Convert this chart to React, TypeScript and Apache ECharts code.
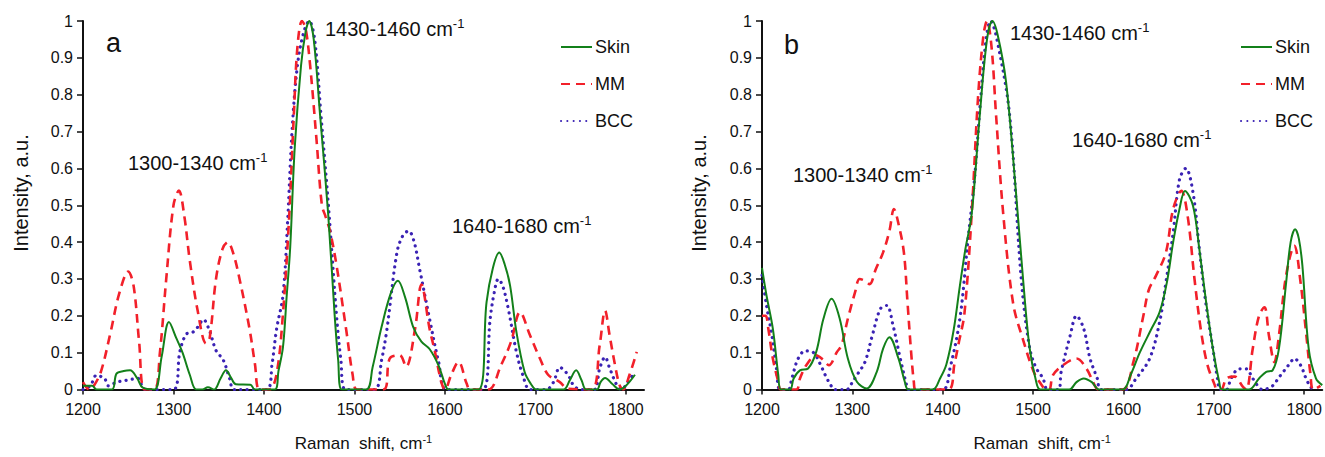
import React, { useEffect, useRef } from "react";
import * as echarts from "echarts";

// ---- Data (Raman shift, normalized intensity) ----
const xTicks = [1200, 1300, 1400, 1500, 1600, 1700, 1800];
const yTitle = "Intensity, a.u.";
const seriesNames = ["Skin", "MM", "BCC"];

// Panel a
const aSkin: number[][] = [
  [1200, 0.01], [1210, 0.01], [1215, 0], [1232, 0], [1237, 0.043], [1245, 0.05], [1252, 0.052], [1260, 0.03], [1266, 0.005],
  [1279, 0], [1287, 0.09], [1295, 0.183], [1303, 0.14], [1310, 0.1], [1318, 0.04], [1325, 0], [1332, 0], [1338, 0.006],
  [1345, 0], [1352, 0.03], [1358, 0.052], [1364, 0.03], [1369, 0.014], [1385, 0.013], [1390, 0], [1412, 0], [1416, 0.05],
  [1421, 0.115], [1425, 0.25], [1429, 0.386], [1434, 0.656], [1441, 0.88], [1446, 0.97], [1450, 1.0], [1455, 0.95],
  [1462, 0.745], [1471, 0.475], [1478, 0.206], [1482, 0.08], [1486, 0], [1513, 0], [1520, 0.06], [1530, 0.17], [1540, 0.26],
  [1548, 0.295], [1556, 0.25], [1565, 0.169], [1574, 0.13], [1583, 0.11], [1593, 0.065], [1600, 0.015], [1604, 0], [1637, 0],
  [1646, 0.237], [1653, 0.33], [1660, 0.372], [1666, 0.34], [1672, 0.282], [1679, 0.156], [1688, 0.048], [1695, 0.015],
  [1701, 0], [1731, 0], [1738, 0.025], [1745, 0.052], [1751, 0.025], [1756, 0], [1768, 0], [1772, 0.02], [1777, 0.031],
  [1785, 0.015], [1793, 0], [1800, 0.01], [1810, 0.04],
];
const aMM: number[][] = [
  [1200, 0.02], [1207, 0], [1212, 0.01], [1220, 0.05], [1230, 0.15], [1240, 0.26], [1250, 0.32], [1256, 0.28], [1262, 0.13],
  [1268, 0], [1279, 0], [1285, 0.1], [1292, 0.3], [1300, 0.5], [1306, 0.54], [1312, 0.47], [1318, 0.35], [1327, 0.21],
  [1336, 0.125], [1340, 0.14], [1347, 0.3], [1354, 0.38], [1360, 0.4], [1366, 0.37], [1373, 0.3], [1384, 0.165], [1390, 0.07],
  [1395, 0], [1406, 0], [1414, 0.043], [1421, 0.206], [1428, 0.475], [1433, 0.745], [1437, 0.93], [1442, 1.0], [1446, 0.98],
  [1451, 0.88], [1458, 0.68], [1464, 0.5], [1468, 0.47], [1473, 0.43], [1480, 0.34], [1491, 0.16], [1498, 0.04], [1503, 0],
  [1532, 0], [1539, 0.084], [1550, 0.093], [1557, 0.062], [1567, 0.165], [1574, 0.285], [1583, 0.165], [1589, 0.102],
  [1596, 0.02], [1600, 0], [1607, 0.04], [1615, 0.075], [1624, 0.016], [1628, 0], [1648, 0], [1662, 0.066], [1673, 0.129],
  [1683, 0.21], [1694, 0.147], [1705, 0.084], [1714, 0.04], [1727, 0.02], [1736, 0.002], [1762, 0], [1771, 0.12],
  [1777, 0.214], [1782, 0.147], [1788, 0.066], [1793, 0.012], [1797, 0], [1804, 0.04], [1812, 0.102],
];
const aBCC: number[][] = [
  [1200, 0], [1208, 0.01], [1215, 0.039], [1220, 0.035], [1224, 0.03], [1228, 0.01], [1233, 0.015], [1237, 0.02],
  [1248, 0.025], [1261, 0.03], [1266, 0.005], [1270, 0], [1300, 0], [1307, 0.102], [1314, 0.15], [1321, 0.155],
  [1327, 0.17], [1333, 0.19], [1340, 0.158], [1347, 0.106], [1355, 0.08], [1362, 0.03], [1367, 0], [1403, 0], [1409, 0.07],
  [1414, 0.165], [1421, 0.255], [1426, 0.45], [1431, 0.7], [1437, 0.88], [1444, 0.97], [1450, 1.0], [1456, 0.95],
  [1463, 0.745], [1472, 0.475], [1480, 0.206], [1485, 0.08], [1490, 0], [1522, 0], [1530, 0.08], [1536, 0.165],
  [1547, 0.372], [1554, 0.42], [1560, 0.43], [1566, 0.4], [1572, 0.327], [1583, 0.192], [1593, 0.075], [1602, 0],
  [1642, 0], [1650, 0.192], [1655, 0.27], [1659, 0.3], [1664, 0.28], [1670, 0.219], [1679, 0.102], [1686, 0.04], [1694, 0],
  [1712, 0], [1720, 0.02], [1727, 0.06], [1736, 0.04], [1742, 0.012], [1750, 0], [1765, 0], [1771, 0.057], [1777, 0.088],
  [1782, 0.058], [1790, 0.012], [1795, 0], [1802, 0.02], [1810, 0.048],
];

// Panel b
const bSkin: number[][] = [
  [1200, 0.33], [1205, 0.255], [1212, 0.165], [1218, 0.04], [1221, 0], [1231, 0], [1235, 0.03], [1242, 0.052], [1251, 0.057],
  [1260, 0.102], [1268, 0.192], [1277, 0.246], [1286, 0.192], [1295, 0.084], [1305, 0.021], [1316, 0.003], [1327, 0.048],
  [1334, 0.111], [1341, 0.142], [1351, 0.084], [1358, 0.021], [1362, 0], [1389, 0], [1397, 0.03], [1404, 0.068],
  [1412, 0.16], [1419, 0.282], [1425, 0.38], [1432, 0.475], [1441, 0.745], [1449, 0.95], [1455, 1.0], [1461, 0.96],
  [1470, 0.836], [1480, 0.566], [1489, 0.296], [1496, 0.115], [1503, 0.026], [1508, 0], [1540, 0], [1548, 0.02],
  [1556, 0.03], [1565, 0.02], [1573, 0], [1599, 0], [1608, 0.04], [1618, 0.1], [1630, 0.16], [1640, 0.21], [1648, 0.29],
  [1655, 0.4], [1662, 0.49], [1668, 0.539], [1677, 0.498], [1684, 0.38], [1691, 0.246], [1699, 0.11], [1706, 0.02],
  [1709, 0], [1739, 0], [1750, 0.03], [1758, 0.048], [1765, 0.052], [1772, 0.11], [1780, 0.29], [1785, 0.4], [1790, 0.435],
  [1794, 0.41], [1798, 0.336], [1805, 0.11], [1813, 0.03], [1820, 0.012],
];
const bMM: number[][] = [
  [1200, 0.2], [1204, 0.2], [1207, 0.165], [1212, 0.084], [1218, 0.021], [1221, 0], [1238, 0], [1242, 0.03], [1249, 0.066],
  [1260, 0.093], [1268, 0.08], [1274, 0.066], [1283, 0.102], [1288, 0.12], [1295, 0.192], [1303, 0.264], [1308, 0.3],
  [1314, 0.295], [1319, 0.286], [1326, 0.327], [1334, 0.372], [1341, 0.43], [1346, 0.49], [1351, 0.45], [1357, 0.372],
  [1361, 0.237], [1365, 0.102], [1368, 0.021], [1370, 0], [1406, 0], [1413, 0.07], [1418, 0.13], [1424, 0.206],
  [1432, 0.475], [1439, 0.79], [1445, 0.96], [1449, 1.0], [1454, 0.93], [1459, 0.745], [1467, 0.475], [1478, 0.232],
  [1489, 0.134], [1500, 0.052], [1507, 0.021], [1515, 0], [1518, 0], [1522, 0.039], [1533, 0.066], [1548, 0.084],
  [1559, 0.057], [1568, 0.012], [1572, 0], [1599, 0], [1611, 0.075], [1622, 0.2], [1628, 0.27], [1636, 0.309],
  [1647, 0.372], [1655, 0.49], [1664, 0.539], [1671, 0.471], [1679, 0.291], [1686, 0.156], [1693, 0.066], [1701, 0.012],
  [1703, 0], [1708, 0], [1714, 0.03], [1723, 0.035], [1732, 0.008], [1736, 0], [1743, 0.11], [1750, 0.2], [1756, 0.223],
  [1761, 0.146], [1767, 0.074], [1772, 0.146], [1780, 0.31], [1789, 0.39], [1796, 0.29], [1802, 0.156], [1807, 0.039],
  [1810, 0], [1818, 0.01],
];
const bBCC: number[][] = [
  [1200, 0.31], [1205, 0.228], [1211, 0.146], [1216, 0.057], [1220, 0], [1229, 0], [1233, 0.03], [1240, 0.084],
  [1248, 0.105], [1257, 0.1], [1265, 0.066], [1270, 0.039], [1276, 0.012], [1280, 0], [1294, 0], [1298, 0.012],
  [1305, 0.039], [1314, 0.075], [1322, 0.146], [1331, 0.219], [1338, 0.228], [1345, 0.174], [1353, 0.084], [1360, 0.012],
  [1362, 0], [1400, 0], [1408, 0.057], [1419, 0.192], [1428, 0.408], [1435, 0.566], [1442, 0.79], [1448, 0.95],
  [1453, 1.0], [1460, 0.95], [1474, 0.745], [1487, 0.296], [1496, 0.115], [1503, 0.06], [1511, 0.03], [1516, 0],
  [1528, 0], [1531, 0.047], [1541, 0.146], [1548, 0.2], [1556, 0.165], [1563, 0.084], [1571, 0.03], [1575, 0], [1603, 0],
  [1614, 0.03], [1629, 0.084], [1640, 0.183], [1647, 0.291], [1655, 0.426], [1662, 0.57], [1669, 0.6], [1677, 0.534],
  [1684, 0.38], [1691, 0.237], [1699, 0.11], [1704, 0.03], [1707, 0], [1714, 0], [1719, 0.03], [1728, 0.056],
  [1736, 0.056], [1743, 0.03], [1754, 0], [1760, 0.003], [1765, 0.01], [1774, 0.039], [1784, 0.07], [1789, 0.084],
  [1796, 0.066], [1802, 0.03], [1807, 0.007], [1810, 0],
];

const annotations = [
  { text: "a", x: 106, y: 43, big: true },
  { text: "1300-1340 cm", x: 128, y: 163 },
  { text: "1430-1460 cm", x: 325, y: 29 },
  { text: "1640-1680 cm", x: 452, y: 226 },
  { text: "b", x: 784, y: 45, big: true },
  { text: "1300-1340 cm", x: 793, y: 175 },
  { text: "1430-1460 cm", x: 1010, y: 33 },
  { text: "1640-1680 cm", x: 1072, y: 140 },
];

const FONT = "'Liberation Sans', Arial, Helvetica, sans-serif";
const TXT = "#111";
const GREEN = "#13801a";
const RED = "#f2202a";
const BLUE = "#3a22b4";

export default function App() {
  const ref = useRef<HTMLDivElement>(null);

  useEffect(() => {
    if (!ref.current) return;
    const chart = echarts.init(ref.current, undefined, { renderer: "svg" });

    const grids = [
      { left: 83, top: 21, width: 561, height: 370 },
      { left: 762, top: 21, width: 561, height: 370 },
    ];

    const xAxis = grids.map((_, i) => ({
      type: "value",
      gridIndex: i,
      min: 1200,
      max: 1820,
      interval: 100,
      name: "{n|Raman  shift, cm}{s|-1}",
      nameLocation: "middle",
      nameGap: 44,
      nameTextStyle: {
        rich: {
          n: { fontSize: 17, fontFamily: FONT, color: TXT, lineHeight: 20 },
          s: { fontSize: 11, fontFamily: FONT, color: TXT, verticalAlign: "top", lineHeight: 12 },
        },
      },
      axisLine: { show: true, onZero: false, lineStyle: { color: "#111", width: 2 } },
      axisTick: { show: true, length: 5, lineStyle: { color: "#111", width: 1.5 }, customValues: xTicks },
      axisLabel: {
        fontSize: 16,
        fontFamily: FONT,
        color: TXT,
        margin: 12,
        customValues: xTicks,
        formatter: (v: number) => String(v),
      },
      splitLine: { show: false },
    }));

    const yAxis = grids.map((_, i) => ({
      type: "value",
      gridIndex: i,
      min: 0,
      max: 1,
      interval: 0.1,
      axisLine: { show: true, lineStyle: { color: "#111", width: 2 } },
      axisTick: { show: true, length: 6, lineStyle: { color: "#111", width: 1.5 } },
      axisLabel: { fontSize: 16, fontFamily: FONT, color: TXT, margin: 10 },
      splitLine: { show: false },
    }));

    const styles = [
      { color: GREEN, lineStyle: { color: GREEN, width: 2, type: "solid" } },
      { color: RED, lineStyle: { color: RED, width: 2.6, type: [9, 6] } },
      { color: BLUE, lineStyle: { color: BLUE, width: 3.2, type: [0.1, 6.2], cap: "round" } },
    ];

    const panels = [
      [aSkin, aMM, aBCC],
      [bSkin, bMM, bBCC],
    ];

    const series: any[] = [];
    panels.forEach((sets, p) => {
      sets.forEach((d, k) => {
        series.push({
          type: "line",
          name: seriesNames[k],
          xAxisIndex: p,
          yAxisIndex: p,
          data: d,
          smooth: 0.35,
          showSymbol: false,
          symbol: "none",
          clip: true,
          color: styles[k].color,
          lineStyle: styles[k].lineStyle,
          z: 3 - k,
        });
      });
    });

    const legend = [555, 1235].map((left) => ({
      left,
      top: 33,
      orient: "vertical",
      itemWidth: 31,
      itemHeight: 14,
      itemGap: 19,
      data: seriesNames,
      selectedMode: false,
      itemStyle: { opacity: 0 },
      textStyle: { fontSize: 18, fontFamily: FONT, color: TXT, padding: [0, 0, 0, -2] },
    }));

    const graphic: any[] = annotations.map((a) => ({
      type: "text",
      x: a.x,
      y: a.y,
      silent: true,
      style: a.big
        ? { text: a.text, fontSize: 27, fontFamily: FONT, fill: TXT, verticalAlign: "middle" }
        : {
            text: `{m|${a.text}}{s|-1}`,
            verticalAlign: "middle",
            rich: {
              m: { fontSize: 20, fontFamily: FONT, fill: TXT, color: TXT, lineHeight: 24 },
              s: { fontSize: 13, fontFamily: FONT, fill: TXT, color: TXT, verticalAlign: "top", lineHeight: 14 },
            },
          },
    }));
    [21, 699].forEach((x) => {
      graphic.push({
        type: "text",
        x,
        y: 193,
        rotation: Math.PI / 2,
        silent: true,
        style: {
          text: yTitle,
          fontSize: 20,
          fontFamily: FONT,
          fill: TXT,
          align: "center",
          verticalAlign: "middle",
        },
      });
    });

    chart.setOption({
      animation: false,
      backgroundColor: "#fff",
      grid: grids,
      xAxis,
      yAxis,
      legend,
      series,
      graphic,
    } as any);

    return () => chart.dispose();
  }, []);

  return (
    <div
      ref={ref}
      style={{ position: "absolute", left: 0, top: 0, width: 1325, height: 457 }}
    />
  );
}
